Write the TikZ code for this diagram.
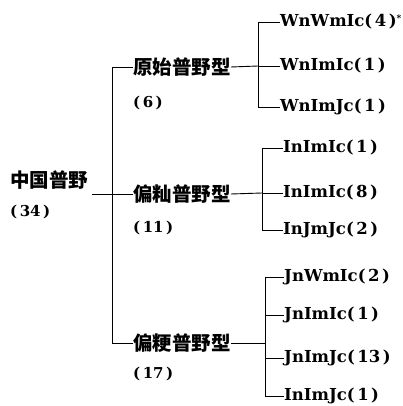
\documentclass[tikz,border=0pt]{standalone}
\usepackage{fontspec}
\newfontfamily\cjk{Noto Sans CJK SC}
\newfontfamily\lat{DejaVu Serif}
\newcommand\pnum[1]{(\kern2.5pt #1\kern2.5pt)}
\begin{document}
\begin{tikzpicture}[x=1pt,y=-1pt,
  cn/.style={inner sep=0pt,anchor=west,font=\cjk\bfseries\fontsize{19.5}{22}\selectfont},
  num/.style={inner sep=0pt,anchor=west,font=\lat\bfseries\fontsize{15}{17}\selectfont},
  leaf/.style={inner sep=0pt,anchor=west,font=\lat\bfseries\fontsize{16.5}{19}\selectfont},
  ln/.style={line width=0.9pt,black}]
\useasboundingbox (0,0) rectangle (403,406);
% root
\node[cn] (root) at (10,180) {中国普野};
\node[num] (rootn) at (10,212) {\pnum{34}};
\coordinate (rs) at (92,194);
\coordinate (rt) at (112,67);
\coordinate (rb) at (112,343);
% branches
\node[cn] (b1) at (133,67) {原始普野型};
\node[num] (b1n) at (133,103) {\pnum{6}};
\node[cn] (b2) at (133,194) {偏籼普野型};
\node[num] (b2n) at (133,228) {\pnum{11}};
\node[cn] (b3) at (133,343) {偏粳普野型};
\node[num] (b3n) at (133,374) {\pnum{17}};
\draw[ln] (rs) -- (b2.west);
\draw[ln] (b1.west) -- (rt) -- (rb) -- (b3.west);
% branch 1 leaves
\node[leaf] (l11) at (280,22) {WnWmIc\pnum{4}\raisebox{5pt}{\fontsize{9}{9}\selectfont*}};
\node[leaf] (l12) at (280,66) {WnImIc\pnum{1}};
\node[leaf] (l13) at (280,107) {WnImJc\pnum{1}};
\coordinate (j1) at (258,66);
\coordinate (j1t) at (258,22);
\coordinate (j1b) at (258,107);
\draw[ln] (b1.east) -- (j1);
\draw[ln] (l11.west) -- (j1t) -- (j1b) -- (l13.west);
\draw[ln] (j1) -- (l12.west);
% branch 2 leaves
\node[leaf] (l21) at (283,148) {InImIc\pnum{1}};
\node[leaf] (l22) at (283,193) {InImIc\pnum{8}};
\node[leaf] (l23) at (283,230) {InJmJc\pnum{2}};
\coordinate (j2) at (262,193);
\coordinate (j2t) at (262,148);
\coordinate (j2b) at (262,230);
\draw[ln] (b2.east) -- (j2);
\draw[ln] (l21.west) -- (j2t) -- (j2b) -- (l23.west);
\draw[ln] (j2) -- (l22.west);
% branch 3 leaves
\node[leaf] (l31) at (284,277) {JnWmIc\pnum{2}};
\node[leaf] (l32) at (284,315) {JnImIc\pnum{1}};
\node[leaf] (l33) at (284,358) {JnImJc\pnum{13}};
\node[leaf] (l34) at (284,396) {InImJc\pnum{1}};
\coordinate (j3) at (265,343);
\coordinate (j3t) at (265,277);
\coordinate (j3b) at (265,396);
\draw[ln] (b3.east) -- (j3);
\draw[ln] (l31.west) -- (j3t) -- (j3b) -- (l34.west);
\draw[ln] (j3 |- l32.west) -- (l32.west);
\draw[ln] (j3 |- l33.west) -- (l33.west);
\end{tikzpicture}
\end{document}
